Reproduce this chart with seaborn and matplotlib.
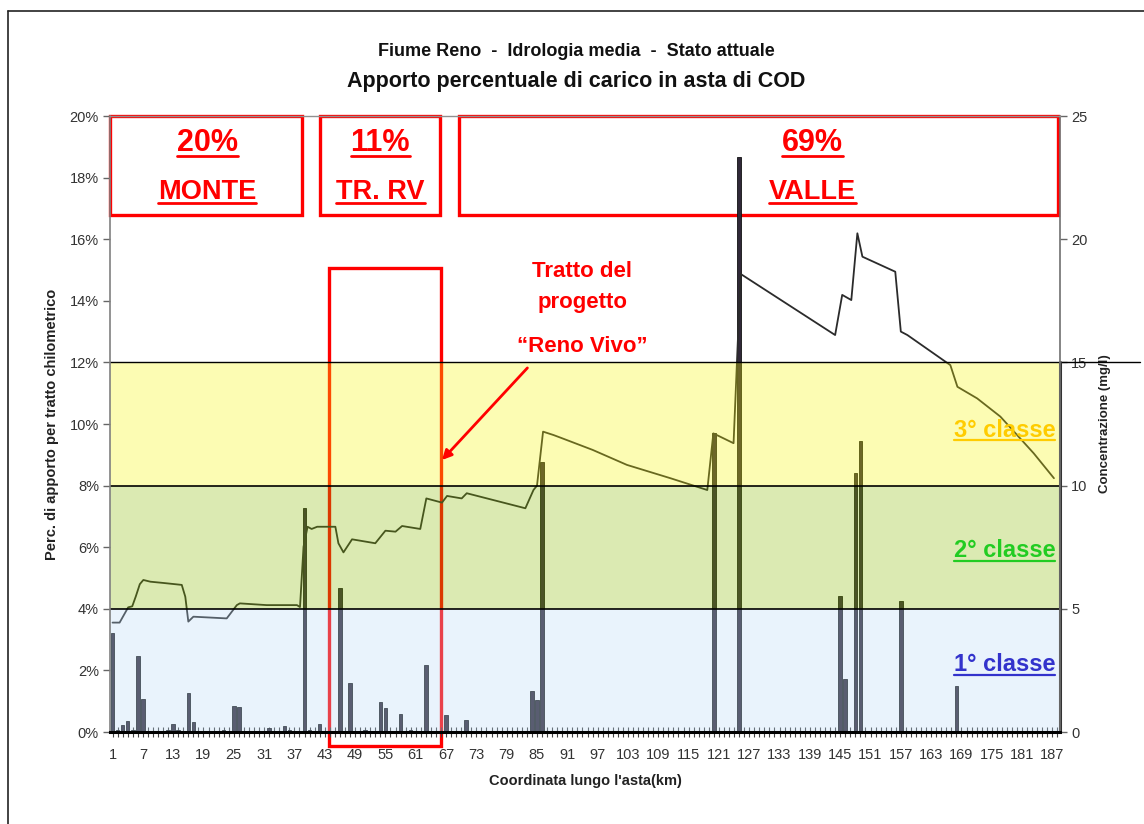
import matplotlib
matplotlib.use("Agg")
import matplotlib.pyplot as plt
import seaborn as sns
from matplotlib.patches import Rectangle
from matplotlib.lines import Line2D
from matplotlib.ticker import MultipleLocator, FuncFormatter

# ---------------- data ----------------
bar_km = [1, 2, 3, 4, 5, 6, 7, 9, 12, 13, 14, 16, 17, 20, 23, 25, 26, 29, 32, 35, 36,
          39, 40, 42, 46, 48, 51, 54, 55, 58, 60, 63, 67, 71, 84, 85, 86,
          120, 125, 145, 146, 148, 149, 157, 168]
bar_pct = [3.2, 0.05, 0.23, 0.37, 0.05, 2.47, 1.08, 0.04, 0.08, 0.26, 0.06, 1.26, 0.33, 0.04, 0.05,
           0.84, 0.82, 0.04, 0.14, 0.2, 0.06,
           7.27, 0.06, 0.26, 4.68, 1.6, 0.05, 0.96, 0.77, 0.6, 0.05, 2.16, 0.55, 0.39, 1.34, 1.04, 8.77,
           9.7, 18.67, 4.4, 1.71, 8.4, 9.45, 4.24, 1.49]

line_km = [1, 2.4, 4.1, 4.9, 5.6, 6.4, 7.1, 8.5, 11, 14.7, 15.4, 16, 17, 23.6, 25.6, 26.2, 31.5, 37.5,
           38.1, 38.8, 39.6, 40.4, 41.5, 45.1, 45.7, 46.7, 48.4, 53, 55, 57, 58.3, 61.9, 63.1,
           66.2, 67.2, 70.1, 71.1, 82.7, 84.3, 85, 86.2, 88.3, 89.6, 96, 102.8, 111.4, 118.7,
           119.9, 123.9, 125.3, 144, 145.4, 147.2, 148.4, 149.4, 155.9, 157, 158.3, 166.8,
           168.2, 172.1, 176.7, 183.3, 187.3]
line_conc = [4.44, 4.44, 5.06, 5.10, 5.5, 6.0, 6.17, 6.1, 6.05, 5.97, 5.49, 4.48, 4.68, 4.61, 5.15,
             5.22, 5.15, 5.15, 5.07, 7.52, 8.33, 8.24, 8.33, 8.33, 7.66, 7.29, 7.82, 7.66, 8.17,
             8.13, 8.36, 8.24, 9.48, 9.31, 9.58, 9.48, 9.69, 9.08, 9.82, 10.0, 12.19, 12.05,
             11.95, 11.45, 10.84, 10.30, 9.82, 12.12, 11.72, 18.59, 16.11, 17.74, 17.53, 20.24,
             19.29, 18.68, 16.25, 16.11, 14.89, 14.01, 13.54, 12.80, 11.31, 10.30]

xtick_values = list(range(1, 188, 6))
ytick_pct = list(range(0, 21, 2))
ytick_conc = list(range(0, 26, 5))

class_bounds = [0, 5, 10, 15]
class_fill = ["#b9daf8", "#8abc00", "#f8f805"]
class_names = ["1° classe", "2° classe", "3° classe"]
class_text_colors = ["#3333cc", "#22cc22", "#ffcc00"]

zone_pct = ["20%", "11%", "69%"]
zone_names = ["MONTE", "TR. RV", "VALLE"]

# ---------------- style ----------------
sns.set_style("white")
plt.rcParams["font.family"] = ["Liberation Sans", "DejaVu Sans"]
NARROW = ["Liberation Sans Narrow", "Liberation Sans", "DejaVu Sans"]

fig = plt.figure(figsize=(11.44, 8.24), dpi=100)
ax = fig.add_axes([110 / 1144, 92 / 824, 950 / 1144, 616 / 824])

sns.barplot(x=bar_km, y=bar_pct, native_scale=True, orient="x", width=0.7,
            color="#302838", edgecolor="#111111", linewidth=0.6, errorbar=None,
            saturation=1, ax=ax)
ax.set_xlim(0.5, 188.5)
ax.set_ylim(0, 20)

ax2 = ax.twinx()
sns.lineplot(x=line_km, y=line_conc, ax=ax2, color="#2b2b2b", lw=1.3, zorder=2)
ax2.set_ylim(0, 25)
ax2.set_xlim(0.5, 188.5)

# class bands (semi-transparent overlay)
for lo, hi, col in zip(class_bounds[:-1], class_bounds[1:], class_fill):
    ax2.axhspan(lo, hi, facecolor=col, alpha=0.3, lw=0, zorder=3)
for b in class_bounds[1:3]:
    ax2.axhline(b, color="black", lw=1.2, zorder=4)
ax2.axhline(class_bounds[3], xmin=0, xmax=(1140 - 110) / 950, color="black", lw=1.0,
            zorder=4, clip_on=False)
ax2.plot([1, 1], [0, 15 / 25], transform=ax2.transAxes, color="#333333", lw=2.2, zorder=5,
         clip_on=False)

# spines
for s in ax.spines.values():
    s.set_visible(False)
for name, s in ax2.spines.items():
    s.set_visible(True)
ax2.spines["left"].set_color("#808080")
ax2.spines["left"].set_linewidth(1.2)
ax2.spines["top"].set_color("#909090")
ax2.spines["top"].set_linewidth(1.0)
ax2.spines["right"].set_color("#707070")
ax2.spines["right"].set_linewidth(1.2)
ax2.spines["bottom"].set_color("black")
ax2.spines["bottom"].set_linewidth(2.2)
for s in ax2.spines.values():
    s.set_zorder(6)

# ticks
ax.set_yticks(ytick_pct)
ax.yaxis.set_major_formatter(FuncFormatter(lambda v, p: f"{int(v)}%"))
ax.tick_params(axis="y", which="major", direction="out", length=5, width=1, color="#666666",
               labelsize=10.5, labelcolor="#333333", pad=3, left=True)
ax.set_xticks(xtick_values)
ax.set_xticklabels([str(v) for v in xtick_values])
ax.xaxis.set_minor_locator(MultipleLocator(1))
ax.tick_params(axis="x", which="both", direction="inout", length=7, width=0.8, color="#444444",
               labelsize=10.5, labelcolor="#333333", pad=8, bottom=True)
ax2.set_yticks(ytick_conc)
ax2.set_yticklabels([str(v) for v in ytick_conc])
ax2.tick_params(axis="y", direction="out", length=5, width=1, color="#666666",
                labelsize=10.5, labelcolor="#333333", pad=3, right=True)
ax.grid(False)
ax2.grid(False)

ax.set_ylabel("Perc. di apporto per tratto chilometrico", fontsize=10.5, fontweight="bold",
              color="#222222", labelpad=8)
ax.set_xlabel("Coordinata lungo l'asta(km)", fontsize=10.5, fontweight="bold", color="#222222",
              labelpad=9)
ax2.set_ylabel("Concentrazione (mg/l)", fontsize=9.5, fontweight="bold", color="#222222",
               labelpad=8)

# titles
fig.text(0.504, 0.937, "Fiume Reno  -  Idrologia media  -  Stato attuale", ha="center",
         va="center", fontsize=13, fontweight="bold", family=NARROW, color="#111111")
fig.text(0.504, 0.9005, "Apporto percentuale di carico in asta di COD", ha="center",
         va="center", fontsize=15.5, fontweight="bold", family=NARROW, color="#111111")

# figure frame (left and top)
fig.add_artist(Line2D([8 / 1144, 8 / 1144], [0, 1 - 11 / 824], transform=fig.transFigure,
                      color="#222222", lw=1.2))
fig.add_artist(Line2D([8 / 1144, 1], [1 - 11 / 824, 1 - 11 / 824], transform=fig.transFigure,
                      color="#222222", lw=1.2))

RED = "#ff0000"
underlined = []

# zone boxes (km, % coordinates of the left axis) - drawn beneath the bars
zone_boxes = [(0.5, 38.5), (42.1, 65.9), (69.6, 188.2)]
zone_text_x = [19.7, 54.0, 139.5]
for (x0, x1), xc, pct, name in zip(zone_boxes, zone_text_x, zone_pct, zone_names):
    ax.add_patch(Rectangle((x0, 16.79), x1 - x0, 20 - 16.79, fill=False, edgecolor=RED,
                           lw=2.4, zorder=0.5, clip_on=False))
    t1 = ax2.text(xc, 19.12, pct, transform=ax.transData, ha="center", va="center",
                  fontsize=22, fontweight="bold", color=RED, zorder=7)
    t2 = ax2.text(xc, 17.53, name, transform=ax.transData, ha="center", va="center",
                  fontsize=19.5, fontweight="bold", color=RED, zorder=7)
    underlined += [(t1, RED, 2.0), (t2, RED, 2.0)]

# project stretch box
ax.add_patch(Rectangle((43.9, -0.45), 66.05 - 43.9, 15.06 + 0.45, fill=False,
                       edgecolor=RED, lw=2.4, zorder=0.5, clip_on=False))
for txt, yy in [("Tratto del", 14.94), ("progetto", 13.96), ("\u201cReno Vivo\u201d", 12.53)]:
    ax2.text(94, yy, txt, transform=ax.transData, ha="center", va="center", fontsize=16,
             fontweight="bold", color=RED, zorder=7)
ax2.annotate("", xy=(66.2, 8.83), xytext=(83.1, 11.82), xycoords=ax.transData,
             textcoords=ax.transData,
             arrowprops=dict(arrowstyle="-|>", color=RED, lw=2.0, mutation_scale=14,
                             shrinkA=0, shrinkB=0), zorder=7)

# class labels
for name, col, yy in zip(class_names, class_text_colors, [2.18, 5.88, 9.8]):
    t = ax2.text(187.6, yy, name, transform=ax.transData, ha="right", va="center",
                 fontsize=17, fontweight="bold", color=col, zorder=7)
    underlined.append((t, col, 1.6))

# underline texts
fig.canvas.draw()
r = fig.canvas.get_renderer()
inv = fig.transFigure.inverted()
for t, col, lw in underlined:
    bb = t.get_window_extent(r)
    yb = bb.y0 + 0.075 * bb.height
    p0 = inv.transform((bb.x0, yb))
    p1 = inv.transform((bb.x1, yb))
    fig.add_artist(Line2D([p0[0], p1[0]], [p0[1], p1[1]], transform=fig.transFigure,
                          color=col, lw=lw))

fig.savefig("out.png", dpi=100)
